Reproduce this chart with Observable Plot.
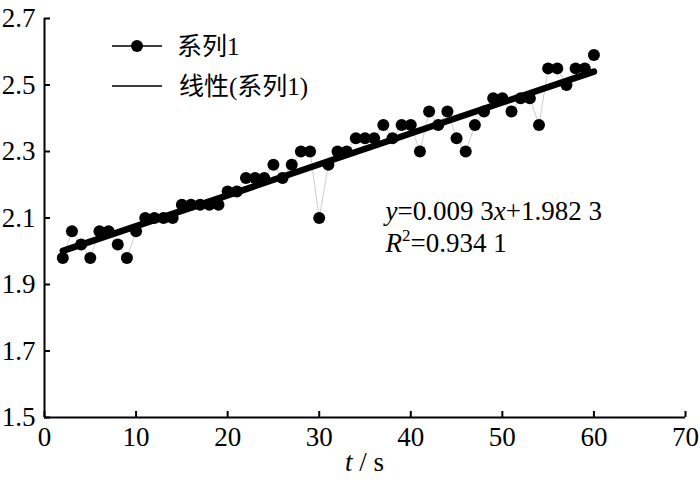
<!DOCTYPE html>
<html>
<head>
<meta charset="utf-8">
<script src="https://cdn.jsdelivr.net/npm/d3@7"></script>
<script src="https://cdn.jsdelivr.net/npm/@observablehq/plot@0.6"></script>
<style>
  body { margin: 0; background: #fff; }
  svg text, svg tspan { font-family: "Liberation Serif", "DejaVu Serif", serif; }
  svg text.cjk { font-family: "Liberation Serif", "Noto Sans CJK SC", serif; }
</style>
</head>
<body>
<div id="chart"></div>
<script>
const times = [2,3,4,5,6,7,8,9,10,11,12,13,14,15,16,17,18,19,20,21,22,23,24,25,26,27,28,29,30,31,32,33,34,35,36,37,38,39,40,41,42,43,44,45,46,47,48,49,50,51,52,53,54,55,56,57,58,59,60];
const values = [1.98,2.06,2.02,1.98,2.06,2.06,2.02,1.98,2.06,2.10,2.10,2.10,2.10,2.14,2.14,2.14,2.14,2.14,2.18,2.18,2.22,2.22,2.22,2.26,2.22,2.26,2.30,2.30,2.10,2.26,2.30,2.30,2.34,2.34,2.34,2.38,2.34,2.38,2.38,2.30,2.42,2.38,2.42,2.34,2.30,2.38,2.42,2.46,2.46,2.42,2.46,2.46,2.38,2.55,2.55,2.50,2.55,2.55,2.59];
const slope = 0.0093;
const intercept = 1.9823;
const xTicks = [0,10,20,30,40,50,60,70];
const yTicks = [1.5,1.7,1.9,2.1,2.3,2.5,2.7];
const seriesName = "系列1";
const trendName = "线性(系列1)";
const eqText = "0.009 3";
const eqText2 = "+1.982 3";
const r2Text = "=0.934 1";

const data = times.map((t, i) => ({t, v: values[i]}));
const fitLine = [times[0], times[times.length - 1]].map(t => ({t, v: intercept + slope * t}));

function annotations(index, scales) {
  const g = d3.create("svg:g").attr("fill", "black").attr("text-anchor", "start");
  const x = scales.x, y = scales.y;
  const ex = x(37.3), ey = y(2.092);
  const t1 = g.append("text").attr("x", ex).attr("y", ey).attr("font-size", 27);
  t1.append("tspan").attr("font-style", "italic").text("y");
  t1.append("tspan").text("=" + eqText);
  t1.append("tspan").attr("font-style", "italic").text("x");
  t1.append("tspan").text(eqText2);
  const t2 = g.append("text").attr("x", ex).attr("y", ey + 32).attr("font-size", 27);
  t2.append("tspan").attr("font-style", "italic").text("R");
  t2.append("tspan").attr("font-size", 17).attr("dy", -11).text("2");
  t2.append("tspan").attr("dy", 11).text(r2Text);
  const xl = g.append("text").attr("x", x(35)).attr("y", 471).attr("text-anchor", "middle").attr("font-size", 27);
  xl.append("tspan").attr("font-style", "italic").text("t");
  xl.append("tspan").text(" / s");
  const lg = g.append("g");
  lg.append("line").attr("x1", 112).attr("x2", 162).attr("y1", 46).attr("y2", 46).attr("stroke", "black").attr("stroke-width", 1.5);
  lg.append("circle").attr("cx", 137).attr("cy", 46).attr("r", 6).attr("fill", "black");
  lg.append("text").attr("class", "cjk").attr("x", 177).attr("y", 55).attr("font-size", 25).text(seriesName);
  lg.append("line").attr("x1", 112).attr("x2", 162).attr("y1", 86).attr("y2", 86).attr("stroke", "black").attr("stroke-width", 1.5);
  lg.append("text").attr("class", "cjk").attr("x", 179).attr("y", 95).attr("font-size", 25).text(trendName);
  return g.node();
}

const chart = Plot.plot({
  width: 700,
  height: 485,
  marginLeft: 44,
  marginRight: 15,
  marginTop: 18,
  marginBottom: 68,
  style: {fontSize: "27px", color: "black", background: "white", overflow: "visible"},
  x: {domain: [0, 70], label: null},
  y: {domain: [1.5, 2.7], label: null},
  marks: [
    Plot.axisX({ticks: xTicks, tickSize: -6, tickPadding: 15, strokeWidth: 2, tickFormat: d => String(d), fontSize: 27}),
    Plot.axisY({ticks: yTicks, tickSize: -6, tickPadding: 15, strokeWidth: 2, tickFormat: d => d.toFixed(1), fontSize: 27}),
    Plot.ruleX([0], {y1: 1.5, y2: 2.7, stroke: "black", strokeWidth: 2}),
    Plot.ruleY([1.5], {x1: 0, x2: 70, stroke: "black", strokeWidth: 2}),
    Plot.line(data, {x: "t", y: "v", stroke: "#aaa", strokeWidth: 1, strokeOpacity: 0.6}),
    Plot.line(fitLine, {x: "t", y: "v", stroke: "black", strokeWidth: 6.5}),
    Plot.dot(data, {x: "t", y: "v", r: 6, fill: "black"}),
    annotations
  ]
});
document.getElementById("chart").appendChild(chart);
</script>
</body>
</html>
